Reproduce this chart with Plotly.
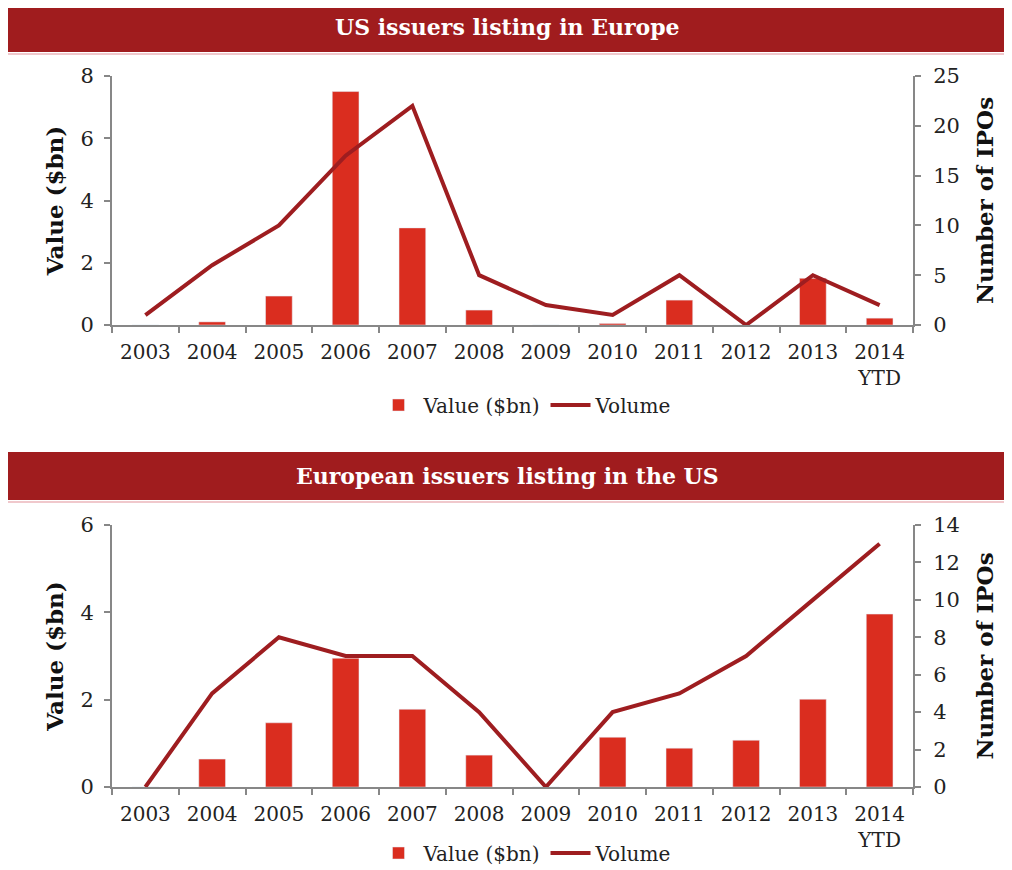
import plotly.graph_objects as go
from plotly.subplots import make_subplots

years = ["2003", "2004", "2005", "2006", "2007", "2008", "2009", "2010",
         "2011", "2012", "2013", "2014<br>YTD"]

# US issuers listing in Europe
us_value = [0.0, 0.1, 0.93, 7.5, 3.12, 0.48, 0.0, 0.05, 0.8, 0.0, 1.5, 0.22]
us_volume = [1, 6, 10, 17, 22, 5, 2, 1, 5, 0, 5, 2]

# European issuers listing in the US
eu_value = [0.0, 0.64, 1.47, 2.95, 1.78, 0.73, 0.0, 1.14, 0.89, 1.07, 2.01, 3.96]
eu_volume = [0, 5, 8, 7, 7, 4, 0, 4, 5, 7, 10, 13]

titles = ["US issuers listing in Europe", "European issuers listing in the US"]

BAR = "#DA2D1F"
LINE = "#9E1D20"
HEAD = "#A01C1E"
AXIS = "#878787"
FONT = "DejaVu Serif"

# the page body adds an 8px margin, so the figure is a bit smaller than the window
OFF = 8
W, H = 1012 - OFF, 870 - OFF


def px(x):
    return (x - OFF) / W


def py(y):
    return 1 - (y - OFF) / H


fig = make_subplots(rows=2, cols=1,
                    specs=[[{"secondary_y": True}], [{"secondary_y": True}]])

for row, (vals, vols, leg) in enumerate([(us_value, us_volume, "legend"),
                                         (eu_value, eu_volume, "legend2")], start=1):
    fig.add_trace(go.Bar(x=years, y=vals, name="Value ($bn)",
                         marker_color=BAR, legend=leg),
                  row=row, col=1, secondary_y=False)
    fig.add_trace(go.Scatter(x=years, y=vols, name="Volume", mode="lines",
                             line=dict(color=LINE, width=4), legend=leg),
                  row=row, col=1, secondary_y=True)

xdom = [px(112), px(913)]
doms = [[py(325), py(76)], [py(787), py(525)]]
ranges = [([0, 8], [0, 25], 2, 5), ([0, 6], [0, 14], 2, 2)]

axis_common = dict(showline=True, linecolor=AXIS, linewidth=2, showgrid=False,
                   zeroline=False, ticks="outside", tickcolor=AXIS, ticklen=6,
                   tickwidth=2, automargin=False,
                   tickfont=dict(family=FONT, size=21, color="#222"))

layout_axes = {}
for i in range(2):
    xa = "xaxis" if i == 0 else "xaxis2"
    ya = "yaxis" if i == 0 else "yaxis3"
    yb = "yaxis2" if i == 0 else "yaxis4"
    lr, rr, ld, rd = ranges[i]
    layout_axes[xa] = dict(axis_common, domain=xdom, type="category",
                           tickson="boundaries", ticklabelstandoff=8,
                           tickfont=dict(family=FONT, size=20, color="#222"))
    layout_axes[ya] = dict(axis_common, domain=doms[i], range=lr, dtick=ld,
                           ticklabelstandoff=6,
                           title=dict(text="<b>Value ($bn)</b>", standoff=10,
                                      font=dict(family=FONT, size=23, color="#111")))
    layout_axes[yb] = dict(axis_common, domain=doms[i], range=rr, dtick=rd,
                           ticklabelstandoff=8,
                           title=dict(text="<b>Number of IPOs</b>", standoff=18,
                                      font=dict(family=FONT, size=23, color="#111")))

fig.update_layout(**layout_axes)

shapes = []
annotations = []
for (y0, y1), txt in zip([(2, 52), (452, 500)], titles):
    shapes.append(dict(type="rect", xref="paper", yref="paper",
                       x0=0, x1=px(1010), y0=py(y1), y1=min(py(y0), 1),
                       fillcolor=HEAD, line_width=0, layer="below"))
    shapes.append(dict(type="line", xref="paper", yref="paper",
                       x0=0, x1=px(1010), y0=py(y1 + 2), y1=py(y1 + 2),
                       line=dict(color="#F0C8CC", width=2)))
    annotations.append(dict(text="<b>" + txt + "</b>", xref="paper", yref="paper",
                            x=px(507), y=py((y0 + y1) / 2), showarrow=False,
                            xanchor="center", yanchor="middle",
                            font=dict(family=FONT, size=22, color="white")))

legend_style = dict(orientation="h", xanchor="center", x=px(525), yanchor="middle",
                    font=dict(family=FONT, size=20, color="#222"),
                    bgcolor="rgba(0,0,0,0)", itemwidth=40, tracegroupgap=0)

fig.update_layout(
    width=W, height=H,
    margin=dict(l=0, r=0, t=0, b=0, autoexpand=False),
    paper_bgcolor="white", plot_bgcolor="white",
    bargap=0.6,
    showlegend=True,
    legend=dict(legend_style, y=py(405)),
    legend2=dict(legend_style, y=py(853)),
    shapes=shapes,
    annotations=annotations,
)

fig.write_html("out.html")
